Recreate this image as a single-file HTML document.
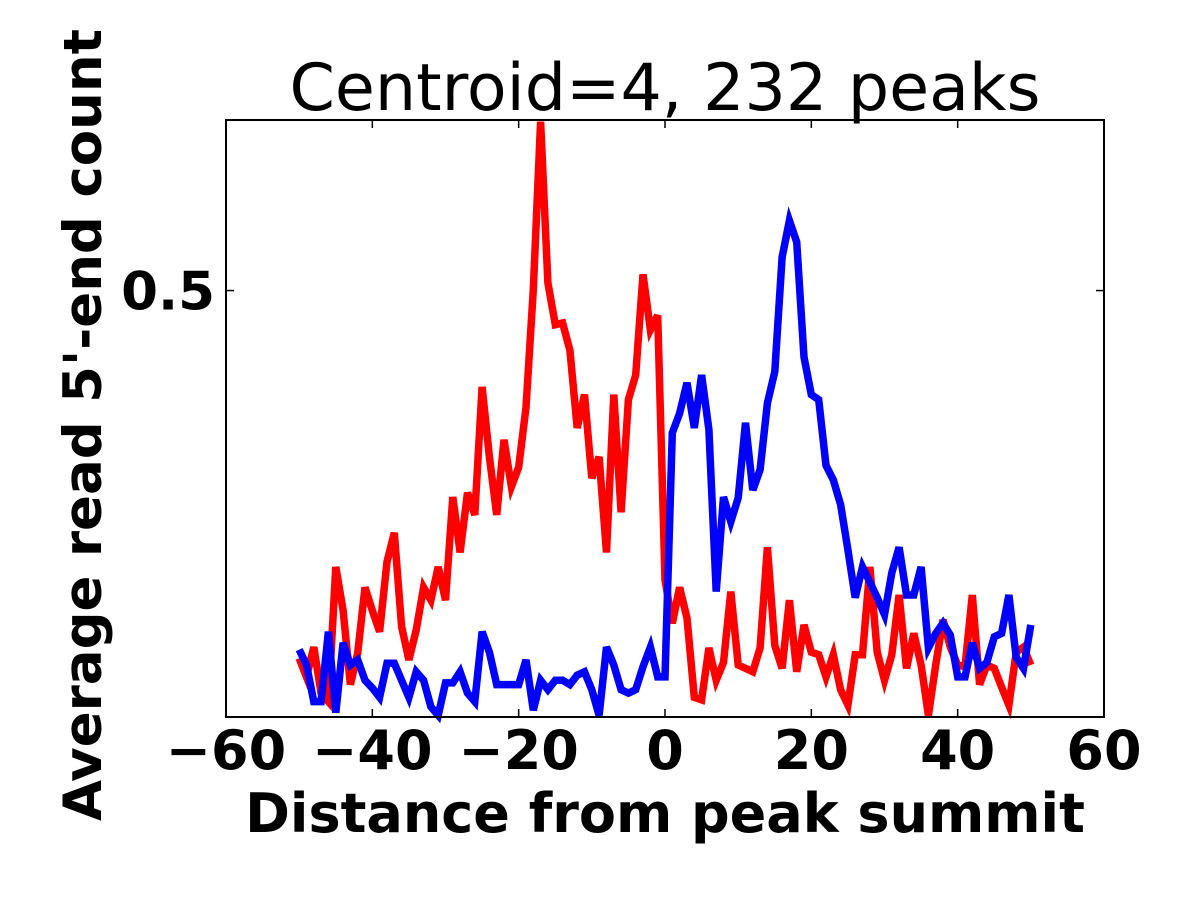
<!DOCTYPE html>
<html><head><meta charset="utf-8"><style>
html,body{margin:0;padding:0;background:#fff;}
svg{display:block;font-family:"DejaVu Sans","Liberation Sans",sans-serif;}
</style></head><body>
<svg id="chart" width="1200" height="900" viewBox="0 0 1200 900" xmlns="http://www.w3.org/2000/svg">
<rect width="1200" height="900" fill="#fff"/>
<text x="665" y="110" text-anchor="middle" font-size="65">Centroid=4, 232 peaks</text>
<g id="series"></g>
<rect x="226" y="120" width="878" height="597" fill="none" stroke="#000" stroke-width="2"/>
<g id="ticks"></g>
<text x="665" y="832" text-anchor="middle" font-size="54" font-weight="bold">Distance from peak summit</text>
<text transform="translate(101,425) rotate(-90)" text-anchor="middle" font-size="53" font-weight="bold">Average read 5'-end count</text>
</svg>
<script>
const xs = [];
for (let i = -50; i <= 50; i++) xs.push(i);
const redValues = [0.069,0.047,0.082,0.028,0.018,0.176,0.125,0.038,0.075,0.152,0.125,0.100,0.182,0.216,0.106,0.067,0.102,0.152,0.137,0.176,0.137,0.258,0.193,0.263,0.237,0.387,0.305,0.237,0.325,0.270,0.293,0.363,0.501,0.698,0.509,0.460,0.462,0.430,0.339,0.378,0.280,0.305,0.193,0.378,0.240,0.372,0.401,0.519,0.454,0.471,
0.161,0.110,0.152,0.116,0.023,0.020,0.081,0.043,0.064,0.147,0.061,0.057,0.053,0.081,0.199,0.084,0.057,0.137,0.053,0.108,0.076,0.073,0.047,0.073,0.032,0.014,0.073,0.073,0.176,0.076,0.043,0.073,0.143,0.057,0.098,0.061,0.002,0.061,0.114,0.082,0.061,0.059,0.143,0.038,0.061,0.057,0.035,0.014,0.076,0.082,0.061];
const blueValues = [0.079,0.061,0.018,0.018,0.100,0.005,0.087,0.061,0.067,0.043,0.034,0.023,0.063,0.063,0.043,0.023,0.053,0.043,0.012,0.002,0.040,0.040,0.053,0.028,0.018,0.100,0.076,0.038,0.038,0.038,0.038,0.067,0.008,0.043,0.032,0.043,0.043,0.038,0.049,0.053,0.032,0.002,0.082,0.061,0.032,0.028,0.032,0.059,0.082,0.047,
0.047,0.333,0.356,0.392,0.339,0.401,0.337,0.147,0.258,0.229,0.257,0.345,0.266,0.290,0.368,0.405,0.539,0.582,0.557,0.422,0.378,0.372,0.295,0.278,0.249,0.196,0.140,0.176,0.158,0.140,0.120,0.169,0.199,0.143,0.143,0.176,0.081,0.098,0.110,0.096,0.047,0.047,0.087,0.057,0.064,0.094,0.098,0.143,0.070,0.057,0.108];
const xTicks = [-60,-40,-20,0,20,40,60];
const xTickLabels = ["\u221260","\u221240","\u221220","0","20","40","60"];
const yTicks = [0.5];
const yTickLabels = ["0.5"];

const L=226,R=1104,T=120,B=717, xMin=-60,xMax=60,yMin=0,yMax=0.7;
const sx = v => L + (v - xMin) / (xMax - xMin) * (R - L);
const sy = v => B - (v - yMin) / (yMax - yMin) * (B - T);
const NS = "http://www.w3.org/2000/svg";
const series = document.getElementById('series');
function line(vals, color, name){
  const p = document.createElementNS(NS,'polyline');
  p.setAttribute('points', vals.map((v,i)=>sx(xs[i]).toFixed(1)+','+sy(v).toFixed(1)).join(' '));
  p.setAttribute('fill','none'); p.setAttribute('stroke',color);
  p.setAttribute('stroke-width','7.5'); p.setAttribute('stroke-linejoin','miter');
  
  
  series.appendChild(p);
}
line(redValues,'#ff0000','red-series-line');
line(blueValues,'#0000ff','blue-series-line');
const tg = document.getElementById('ticks');
xTicks.forEach((t,i)=>{
  const x = sx(t);
  [[B,B-8],[T,T+8]].forEach(([a,b])=>{
    const l=document.createElementNS(NS,'line');
    l.setAttribute('x1',x);l.setAttribute('x2',x);l.setAttribute('y1',a);l.setAttribute('y2',b);
    l.setAttribute('stroke','#000');l.setAttribute('stroke-width','1.5');
    
    
    tg.appendChild(l);
  });
  const tx=document.createElementNS(NS,'text');
  tx.setAttribute('x',x);tx.setAttribute('y',769);tx.setAttribute('text-anchor','middle');
  tx.setAttribute('font-size','54');tx.setAttribute('font-weight','bold');
  tx.textContent=xTickLabels[i];
  
  
  tg.appendChild(tx);
});
yTicks.forEach((t,i)=>{
  const y = sy(t);
  [[L,L+8],[R,R-8]].forEach(([a,b])=>{
    const l=document.createElementNS(NS,'line');
    l.setAttribute('x1',a);l.setAttribute('x2',b);l.setAttribute('y1',y);l.setAttribute('y2',y);
    l.setAttribute('stroke','#000');l.setAttribute('stroke-width','1.5');
    
    
    tg.appendChild(l);
  });
  const tx=document.createElementNS(NS,'text');
  tx.setAttribute('x',215);tx.setAttribute('y',y+19);tx.setAttribute('text-anchor','end');
  tx.setAttribute('font-size','53');tx.setAttribute('font-weight','bold');
  tx.textContent=yTickLabels[i];
  
  
  tg.appendChild(tx);
});
</script>
</body></html>
